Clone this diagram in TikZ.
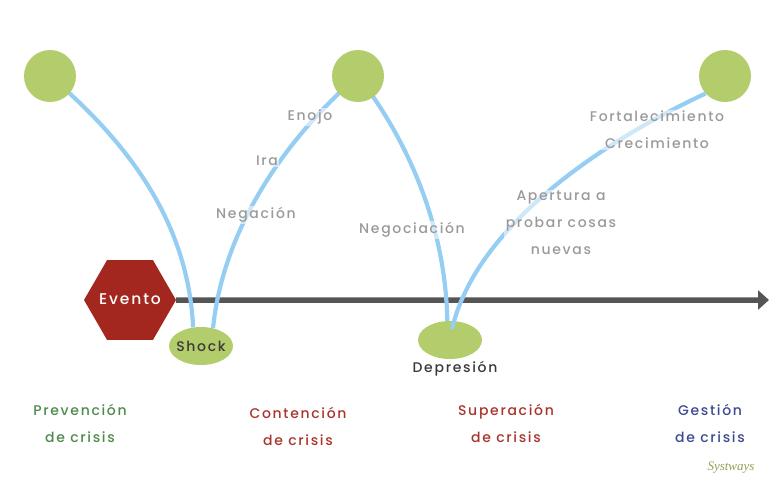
\documentclass[tikz,border=0pt]{standalone}
\usepackage{fontspec}
\setmainfont[LetterSpace=12]{Poppins Medium}
\newfontfamily\logofont{Liberation Serif}
\usetikzlibrary{shapes.geometric, arrows.meta, backgrounds}
\definecolor{leaf-green}{HTML}{B3CC6C}
\definecolor{sky-blue}{HTML}{96CEF3}
\definecolor{brick-red}{HTML}{A3271F}
\definecolor{axis-gray}{HTML}{555555}
\definecolor{label-gray}{HTML}{9A9A9A}
\definecolor{dark-text}{HTML}{3A3A3A}
\definecolor{prev-green}{HTML}{4E8A4B}
\definecolor{sup-red}{HTML}{A8352B}
\definecolor{gest-blue}{HTML}{3F4A8F}
\tikzset{
  stage/.style={circle, fill=leaf-green, minimum size=52pt, inner sep=0pt},
  path-curve/.style={draw=sky-blue, line width=4.2pt},
  step-label/.style={text=label-gray, fill=white, fill opacity=0.55, text opacity=1,
    font=\fontsize{14}{27}\selectfont, align=center, inner sep=1.5pt},
  phase/.style={font=\fontsize{14}{27}\selectfont, align=center, inner sep=0pt},
}
\begin{document}
\begin{tikzpicture}[x=1pt, y=-1pt]
      \useasboundingbox (0,0) rectangle (784,482);
      % top circles
      \node[stage] (C1) at (50,76) {};
      \node[stage] (C2) at (358,76) {};
      \node[stage] (C3) at (725,76) {};
      % event and low points
      \node[regular polygon, regular polygon sides=6, fill=brick-red, minimum size=92pt,
            inner sep=0pt, text=white, font=\fontsize{15.5}{15}\selectfont] (EV) at (130,300) {\makebox[30pt]{\raisebox{1.5pt}{Evento}}};
      \node[ellipse, fill=leaf-green, minimum width=64pt, minimum height=38pt, inner sep=0pt,
            text=dark-text, font=\fontsize{14}{15}\selectfont] (SH) at (201,346) {\makebox[30pt]{Shock}};
      \node[ellipse, fill=leaf-green, minimum width=64pt, minimum height=38pt, inner sep=0pt] (DE) at (450,340) {};
      \coordinate (END) at (769,300);
      \coordinate (DEIN) at (452,329);
      % time axis
      \begin{scope}[on background layer]
      \draw[-{Triangle[length=11pt, width=19pt]}, axis-gray, line width=5.5pt] (EV.east) -- (END);
      % curves
      \draw[path-curve] (C1.center) .. controls +(75,64) and +(-5,-108) .. (SH.113);
      \draw[path-curve] (C2.center) .. controls +(-63,54) and +(11,-108) .. (SH.56);
      \draw[path-curve] (C2.center) .. controls +(42,54) and +(-2,-105) .. (DE.98);
      \end{scope}
      \draw[path-curve] (C3.222) .. controls +(-65,30) and +(28,-119) .. (DEIN);
      % labels on the curves
      \node[step-label] (ENO) at (310,117) {Enojo};
      \node[step-label] (IRA) at (267,161) {Ira};
      \node[step-label] (NEG) at (256,215) {Negación};
      \node[step-label] (NGC) at (412,230) {Negociación};
      \node[step-label] (APE) at (561,223) {Apertura a\\probar cosas\\nuevas};
      \node[step-label] (FOR) at (657,130) {Fortalecimiento\\Crecimiento};
      \node[font=\fontsize{14}{15}\selectfont, text=dark-text, inner sep=0pt] (DEP) at (455,369) {Depresión};
      % phases
      \node[phase, text=prev-green] (PR) at (80,423) {Prevención\\de crisis};
      \node[phase, text=sup-red] (CO) at (298,426) {Contención\\de crisis};
      \node[phase, text=sup-red] (SU) at (506,423) {Superación\\de crisis};
      \node[phase, text=gest-blue] (GE) at (710,423) {Gestión\\de crisis};
      \node[font=\logofont\itshape\fontsize{13}{14}\selectfont, text=leaf-green!80!black, inner sep=0pt] (LG) at (731,468) {Systways};
\end{tikzpicture}
\end{document}
